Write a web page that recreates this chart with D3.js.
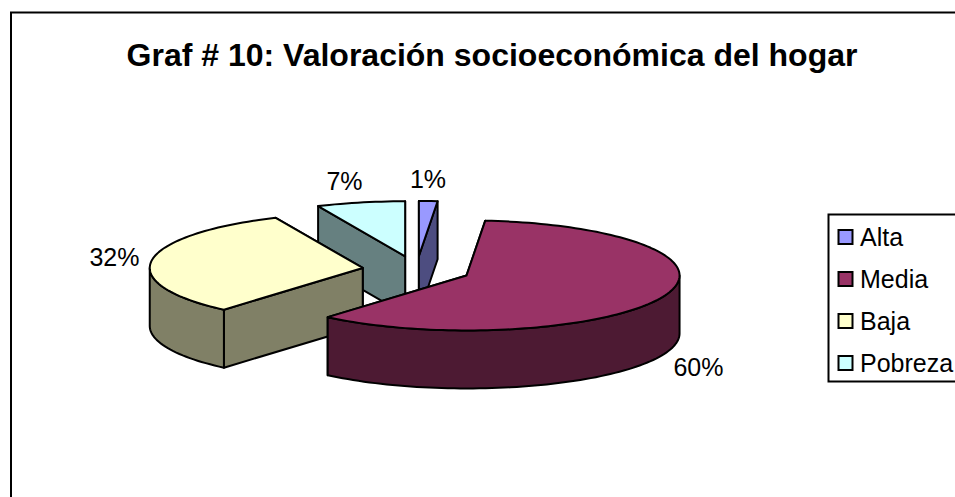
<!DOCTYPE html>
<html><head><meta charset="utf-8">
<script src="https://cdn.jsdelivr.net/npm/d3@7"></script>
<style>html,body{margin:0;padding:0;background:#fff}svg{display:block;font-family:"Liberation Sans",Arial,sans-serif}</style>
</head><body><div id="c"></div>
<script>
const titleText = "Graf # 10: Valoración socioeconómica del hogar";
const categories = ["Alta","Media","Baja","Pobreza"];
const values = [1.4, 59.9, 32, 6.7];
const topColors = ["#9999FF","#993366","#FFFFCC","#CCFFFF"];
const sideColors = ["#4D4D80","#4D1A33","#808066","#668080"];

const W=955,H=497;
const cx=416.5, cy=270, rx=213, ry=55, depth=58, explode=0.255;
// label baseline positions, same order as categories
const labelX=[428,698.5,114.5,344.5], labelY=[188,376,266,190];
const drawOrder=[3,0,2,1];

const svg=d3.select("#c").append("svg").attr("width",W).attr("height",H);
svg.append("rect").attr("width",W).attr("height",H).attr("fill","#fff");
svg.append("path").attr("d",`M11,${H} V12.5 H${W}`).attr("fill","none").attr("stroke","#000").attr("stroke-width",2);
svg.append("text").attr("x",492).attr("y",66).attr("text-anchor","middle")
  .attr("font-size",32).attr("font-weight","bold").text(titleText);

const arcs=d3.pie().sort(null).startAngle(0).endAngle(2*Math.PI)(values);
const fmt=v=>Math.round(v)+"%";
const lineGen=d3.line().x(d=>d[0]).y(d=>d[1]).curve(d3.curveLinear);
const stroke={stroke:"#000",w:2};
function face(pts,fill){
  svg.append("path").attr("d",lineGen(pts)+"Z").attr("fill",fill)
    .attr("stroke",stroke.stroke).attr("stroke-width",stroke.w).attr("stroke-linejoin","round");
}
function rimPts(a0,a1,ox,oy,dz){
  const n=Math.max(2,Math.ceil(Math.abs(a1-a0)/0.03)),s=d3.scaleLinear().domain([0,n]).range([a0,a1]);
  return d3.range(n+1).map(i=>{const a=s(i);return [ox+rx*Math.sin(a),oy-ry*Math.cos(a)+dz];});
}
drawOrder.forEach(i=>{
  const d=arcs[i], mid=(d.startAngle+d.endAngle)/2;
  const ox=cx+rx*explode*Math.sin(mid), oy=cy-ry*explode*Math.cos(mid);
  const walls=[d.startAngle,d.endAngle].map(a=>({a,x:ox+rx*Math.sin(a),y:oy-ry*Math.cos(a)})).sort((p,q)=>p.y-q.y);
  walls.forEach(w=>face([[ox,oy],[w.x,w.y],[w.x,w.y+depth],[ox,oy+depth]],sideColors[i]));
  const lo=Math.max(d.startAngle,Math.PI/2), hi=Math.min(d.endAngle,3*Math.PI/2);
  if(hi>lo){
    const top=rimPts(lo,hi,ox,oy,0), bot=rimPts(hi,lo,ox,oy,depth);
    face(top.concat(bot),sideColors[i]);
  }
  face([[ox,oy]].concat(rimPts(d.startAngle,d.endAngle,ox,oy,0)),topColors[i]);
});
arcs.forEach((d,i)=>{
  svg.append("text").attr("x",labelX[i]).attr("y",labelY[i]).attr("text-anchor","middle")
    .attr("font-size",25).attr("fill","#000").text(fmt(d.data));
});
// legend
const legend=svg.append("g");
legend.append("path").attr("d",`M${W},214.5 H828.5 V381.5 H${W}`).attr("fill","#fff").attr("stroke","#000").attr("stroke-width",2);
const legY=d3.scalePoint().domain(categories).range([237,363]);
categories.forEach((c,i)=>{
  legend.append("rect").attr("x",838.5).attr("y",legY(c)-7).attr("width",14).attr("height",14)
    .attr("fill",topColors[i]).attr("stroke","#000").attr("stroke-width",2);
  legend.append("text").attr("x",860).attr("y",legY(c)+9).attr("font-size",25).attr("fill","#000").text(c);
});
</script></body></html>
